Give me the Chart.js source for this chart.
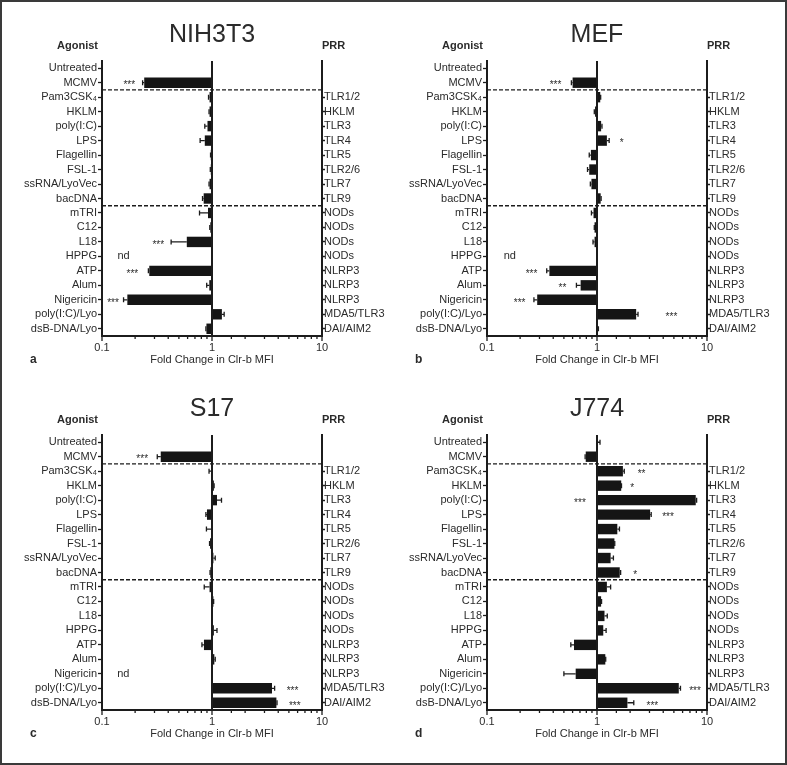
<!DOCTYPE html>
<html>
<head>
<meta charset="utf-8">
<script src="https://cdn.jsdelivr.net/npm/chart.js@4.4.1/dist/chart.umd.min.js"></script>
<style>
  html, body { margin: 0; padding: 0; background: #fff; }
  #frame { position: absolute; left: 0; top: 0; width: 783px; height: 761px; border: 2px solid #3a3a3a; }
  canvas { position: absolute; }
</style>
</head>
<body>
<div id="frame"></div>
<canvas id="panel-a" width="395" height="385" style="left:0px;top:0px"></canvas>
<canvas id="panel-b" width="395" height="385" style="left:385px;top:0px"></canvas>
<canvas id="panel-c" width="395" height="385" style="left:0px;top:374px"></canvas>
<canvas id="panel-d" width="395" height="385" style="left:385px;top:374px"></canvas>
<script>
const agonists = ['Untreated', 'MCMV', 'Pam3CSK\u2084', 'HKLM', 'poly(I:C)', 'LPS', 'Flagellin', 'FSL-1', 'ssRNA/LyoVec', 'bacDNA',
    'mTRI', 'C12', 'L18', 'HPPG', 'ATP', 'Alum', 'Nigericin', 'poly(I:C)/Lyo', 'dsB-DNA/Lyo'];
const prr = ['', '', 'TLR1/2', 'HKLM', 'TLR3', 'TLR4', 'TLR5', 'TLR2/6', 'TLR7', 'TLR9',
    'NODs', 'NODs', 'NODs', 'NODs', 'NLRP3', 'NLRP3', 'NLRP3', 'MDA5/TLR3', 'DAI/AIM2'];
const xTickLabels = [0.1, 1, 10];
// dashed separators sit between these rows
const groupBreaks = [1.5, 9.5];

// fold change in Clr-b MFI, SEM, significance marks [row, text, x], nd [row, x]
const nih3t3Fold = [1, 0.242, 0.95, 0.95, 0.91, 0.86, 0.975, 0.975, 0.95, 0.84, 0.92, 0.965, 0.59, null, 0.269, 0.945, 0.17, 1.23, 0.89];
const nih3t3Sem = [0, 0.008, 0.02, 0.01, 0.05, 0.08, 0.005, 0.01, 0.01, 0.02, 0.15, 0.01, 0.165, 0, 0.005, 0.05, 0.013, 0.06, 0.01];
const nih3t3Stars = [[1, '***', 0.177], [12, '***', 0.325], [14, '***', 0.189], [16, '***', 0.126]];
const nih3t3Nd = [[13, 0.157]];

const mefFold = [1, 0.60, 1.07, 0.96, 1.09, 1.23, 0.88, 0.85, 0.89, 1.08, 0.93, 0.95, 0.95, null, 0.369, 0.71, 0.286, 2.27, 1.01];
const mefSem = [0, 0.015, 0.01, 0.015, 0.02, 0.06, 0.03, 0.03, 0.02, 0.01, 0.04, 0.005, 0.03, 0, 0.02, 0.06, 0.019, 0.09, 0.02];
const mefStars = [[1, '***', 0.42], [5, '*', 1.68], [14, '***', 0.254], [15, '**', 0.485], [16, '***', 0.198], [17, '***', 4.75]];
const mefNd = [[13, 0.161]];

const s17Fold = [1, 0.342, 0.98, 1.04, 1.11, 0.90, 0.98, 0.96, 1.03, 0.965, 0.95, 1.03, 1.005, 1.04, 0.845, 1.05, null, 3.51, 3.85];
const s17Sem = [0, 0.024, 0.04, 0.005, 0.11, 0.02, 0.09, 0.01, 0.04, 0.005, 0.1, 0.005, 0, 0.07, 0.035, 0.02, 0, 0.2, 0.05];
const s17Stars = [[1, '***', 0.232], [17, '***', 5.39], [18, '***', 5.66]];
const s17Nd = [[16, 0.156]];

const j774Fold = [1, 0.79, 1.72, 1.66, 7.9, 3.04, 1.53, 1.44, 1.33, 1.61, 1.23, 1.09, 1.17, 1.14, 0.618, 1.19, 0.64, 5.54, 1.89];
const j774Sem = [0.065, 0.01, 0.05, 0.01, 0.15, 0.07, 0.07, 0.01, 0.08, 0.03, 0.1, 0.01, 0.07, 0.07, 0.04, 0.01, 0.14, 0.2, 0.27];
const j774Stars = [[2, '**', 2.54], [3, '*', 2.09], [4, '***', 0.70], [5, '***', 4.42], [9, '*', 2.22], [17, '***', 7.78], [18, '***', 3.19]];
const j774Nd = [];

const ink = '#1c1c1c';
const textInk = '#2b2b2b';
const fontFamily = '"Liberation Sans", Arial, Helvetica, sans-serif';

function makePanel(canvasId, title, letter, fold, sem, stars, nd) {
    // error bars, separators, stars and panel text
    const decor = {
        id: 'decor',
        afterDatasetsDraw(chart) {
            const {ctx, chartArea: area, scales: {x, y}} = chart;
            ctx.save();
            ctx.strokeStyle = ink;
            ctx.fillStyle = textInk;

            ctx.lineWidth = 1.3;
            fold.forEach((v, i) => {
                if (v == null || !sem[i]) return;
                const end = v < 1 ? v - sem[i] : v + sem[i];
                const yc = y.getPixelForValue(i);
                const x0 = x.getPixelForValue(v);
                const x1 = x.getPixelForValue(end);
                ctx.beginPath();
                ctx.moveTo(x0, yc);
                ctx.lineTo(x1, yc);
                ctx.moveTo(x1, yc - 2.5);
                ctx.lineTo(x1, yc + 2.5);
                ctx.stroke();
            });

            // reference line at fold change 1
            const x1 = x.getPixelForValue(1);
            ctx.lineWidth = 2;
            ctx.beginPath();
            ctx.moveTo(x1, area.top);
            ctx.lineTo(x1, area.bottom);
            ctx.stroke();

            ctx.lineWidth = 1.3;
            ctx.setLineDash([4, 2]);
            groupBreaks.forEach(b => {
                const yb = y.getPixelForValue(b);
                ctx.beginPath();
                ctx.moveTo(area.left, yb);
                ctx.lineTo(area.right, yb);
                ctx.stroke();
            });
            ctx.setLineDash([]);

            ctx.textAlign = 'center';
            ctx.textBaseline = 'middle';
            ctx.font = '10px ' + fontFamily;
            stars.forEach(([row, text, at]) => {
                ctx.fillText(text, x.getPixelForValue(at), y.getPixelForValue(row) + 3);
            });
            ctx.font = '11px ' + fontFamily;
            nd.forEach(([row, at]) => {
                ctx.fillText('nd', x.getPixelForValue(at), y.getPixelForValue(row));
            });
            ctx.restore();
        },
        afterDraw(chart) {
            const {ctx, chartArea: area, scales: {x}} = chart;
            ctx.save();
            ctx.strokeStyle = ink;
            ctx.fillStyle = textInk;

            // log ticks: long on decades, short in between
            ctx.lineWidth = 1.3;
            x.ticks.forEach(t => {
                const lg = Math.log10(t.value);
                const len = Math.abs(lg - Math.round(lg)) < 1e-6 ? 5 : 3;
                const px = x.getPixelForValue(t.value);
                ctx.beginPath();
                ctx.moveTo(px, area.bottom);
                ctx.lineTo(px, area.bottom + len);
                ctx.stroke();
            });

            const cx = (area.left + area.right) / 2;
            ctx.textAlign = 'center';
            ctx.textBaseline = 'alphabetic';
            ctx.font = '25px ' + fontFamily;
            ctx.fillText(title, cx, area.top - 19);

            ctx.textBaseline = 'middle';
            ctx.font = 'bold 11px ' + fontFamily;
            ctx.textAlign = 'right';
            ctx.fillText('Agonist', area.left - 4, area.top - 15);
            ctx.textAlign = 'left';
            ctx.fillText('PRR', area.right, area.top - 15);

            ctx.font = '11px ' + fontFamily;
            ctx.textAlign = 'center';
            ctx.fillText('Fold Change in Clr-b MFI', cx, area.bottom + 24);

            ctx.font = 'bold 12px ' + fontFamily;
            ctx.textAlign = 'left';
            ctx.fillText(letter, 30, area.bottom + 24);
            ctx.restore();
        }
    };

    return new Chart(canvasId, {
        type: 'bar',
        data: {
            labels: agonists,
            datasets: [{
                data: fold.map(v => v == null ? null : [1, v]),
                backgroundColor: '#151515',
                borderWidth: 0,
                barPercentage: 0.72,
                categoryPercentage: 1
            }]
        },
        options: {
            indexAxis: 'y',
            responsive: false,
            animation: false,
            layout: {padding: {top: 61, left: 0, right: 0, bottom: 0}},
            scales: {
                x: {
                    type: 'logarithmic',
                    min: 0.1,
                    max: 10,
                    afterFit: s => { s.height = 49; },
                    border: {display: true, width: 2, color: ink},
                    grid: {display: true, drawOnChartArea: false, drawTicks: false},
                    ticks: {
                        autoSkip: false,
                        maxRotation: 0,
                        padding: 5,
                        color: textInk,
                        font: {family: fontFamily, size: 11},
                        callback: v => {
                            const t = xTickLabels.find(t => Math.abs(t - v) < 1e-9);
                            return t === undefined ? '' : String(t);
                        }
                    }
                },
                y: {
                    position: 'left',
                    afterFit: s => { s.width = 102; },
                    border: {display: true, width: 2, color: ink},
                    grid: {display: true, drawOnChartArea: false, offset: false, tickLength: 4, tickWidth: 1.3, tickColor: ink},
                    ticks: {autoSkip: false, padding: 1, color: textInk, font: {family: fontFamily, size: 11}}
                },
                y2: {
                    type: 'category',
                    position: 'right',
                    labels: prr,
                    offset: true,
                    afterFit: s => { s.width = 73; },
                    border: {display: true, width: 2, color: ink},
                    grid: {
                        display: true, drawOnChartArea: false, offset: false, tickLength: 3, tickWidth: 1.3,
                        tickColor: c => prr[c.index] ? ink : 'rgba(0,0,0,0)'
                    },
                    ticks: {autoSkip: false, padding: -1, color: textInk, font: {family: fontFamily, size: 11}}
                }
            },
            plugins: {
                legend: {display: false},
                tooltip: {enabled: false}
            }
        },
        plugins: [decor]
    });
}

makePanel('panel-a', 'NIH3T3', 'a', nih3t3Fold, nih3t3Sem, nih3t3Stars, nih3t3Nd);
makePanel('panel-b', 'MEF', 'b', mefFold, mefSem, mefStars, mefNd);
makePanel('panel-c', 'S17', 'c', s17Fold, s17Sem, s17Stars, s17Nd);
makePanel('panel-d', 'J774', 'd', j774Fold, j774Sem, j774Stars, j774Nd);
</script>
</body>
</html>
